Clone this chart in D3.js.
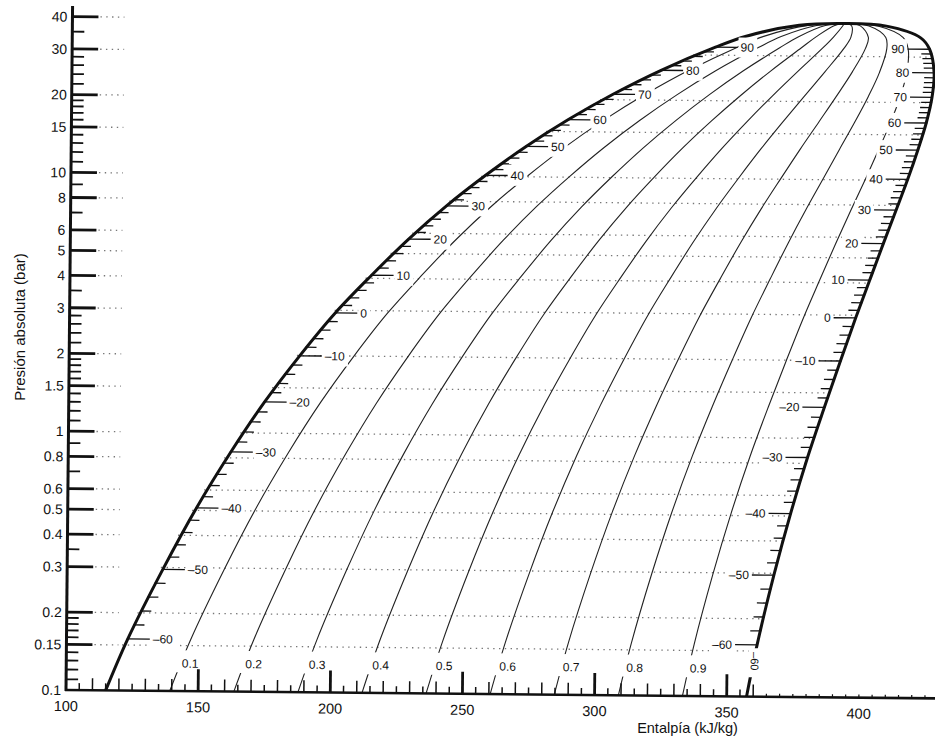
<!DOCTYPE html>
<html><head><meta charset="utf-8">
<script src="https://cdn.jsdelivr.net/npm/d3@7"></script>
<style>
html,body{margin:0;padding:0;background:#fff}
svg{display:block}
text{font-family:"Liberation Sans",Arial,Helvetica,sans-serif;fill:#111}
</style>
</head><body>
<svg id="chart" width="935" height="740"></svg>
<script>
// ---------------- data ----------------
const satTemps    = [-67, -60, -50, -40, -30, -20, -10, 0, 10, 20, 30, 40, 50, 60, 70, 80, 90, 95, 100];
const satPressure = [0.100, 0.1585, 0.295, 0.511, 0.843, 1.32, 1.995, 2.93, 4.11, 5.69, 7.67, 10.1, 13.1, 16.7, 21.0, 26.1, 32.2, 35.6, 39.4];
const hLiquid     = [115.0, 123.2, 136.2, 148.7, 161.5, 174.1, 187.2, 200.5, 214.1, 228.0, 242.2, 256.9, 272.1, 288.0, 304.8, 322.9, 343.4, 355.0, 375.0];
const hVapor      = [357.5, 361.3, 367.4, 373.5, 379.7, 385.9, 391.8, 397.4, 402.6, 407.6, 412.3, 416.6, 420.3, 423.4, 425.5, 426.2, 424.4, 421.0, 408.0];
const criticalH = 392, criticalP = 40.2;
const qualities = [0.1, 0.2, 0.3, 0.4, 0.5, 0.6, 0.7, 0.8, 0.9];
const labelTemps = [-60, -50, -40, -30, -20, -10, 0, 10, 20, 30, 40, 50, 60, 70, 80, 90];
const pressureMajor = [0.1, 0.15, 0.2, 0.3, 0.4, 0.5, 0.6, 0.8, 1, 1.5, 2, 3, 4, 5, 6, 8, 10, 15, 20, 30, 40];
const pressureLabels = ["0.1","0.15","0.2","0.3","0.4","0.5","0.6","0.8","1","1.5","2","3","4","5","6","8","10","15","20","30","40"];
const pressureMinor = [0.11,0.12,0.13,0.14,0.16,0.17,0.18,0.19,0.35,0.7,0.9,1.1,1.2,1.3,1.4,1.6,1.7,1.8,1.9,2.2,2.4,2.6,2.8,3.5,7,9,11,12,13,14,16,17,18,19,22,24,26,28,35];
const gridPressures = [0.15, 0.2, 0.3, 0.4, 0.5, 0.6, 0.8, 1, 1.5, 2, 3, 4, 5, 6, 8, 10, 15, 20, 30];
const enthalpyLabels = [100, 150, 200, 250, 300, 350, 400];

// ---------------- scales ----------------
const svg = d3.select("#chart");
const X0 = 66, Y0 = 690;
const x = d3.scaleLinear().domain([100, 430]).range([X0, X0 + 330 * 2.643]);
const y = d3.scaleLog().domain([0.1, 40]).range([Y0, 16.6]);

// the scanned chart is slightly rotated
const g = svg.append("g").attr("transform", `rotate(0.55,${X0},${Y0})`);
const gGrid = g.append("g"), gQual = g.append("g"), gDome = g.append("g"),
      gMask = g.append("g"), gTicks = g.append("g"), gLabels = g.append("g"), gAxes = g.append("g");

const rows = satTemps.map((t, i) => ({t, p: satPressure[i], hf: hLiquid[i], hg: hVapor[i]}));
const line = d3.line().x(d => x(d.h)).y(d => y(d.p)).curve(d3.curveCatmullRom.alpha(0.5));

function sample(node, n) {
  const L = node.getTotalLength(), pts = [];
  for (let i = 0; i <= n; i++) { const q = node.getPointAtLength(L * i / n); pts.push({x: q.x, y: q.y}); }
  return pts;
}
function xAtY(pts, yT) {
  for (let i = 1; i < pts.length; i++) {
    const a = pts[i - 1], b = pts[i];
    if ((a.y - yT) * (b.y - yT) <= 0 && a.y !== b.y) return a.x + (b.x - a.x) * (yT - a.y) / (b.y - a.y);
  }
  return null;
}

// ---------------- saturation dome ----------------
const domePts = rows.map(r => ({h: r.hf, p: r.p}))
  .concat([{h: criticalH, p: criticalP}])
  .concat(rows.slice().reverse().map(r => ({h: r.hg, p: r.p})));
const dome = gDome.append("path").attr("d", line(domePts))
  .attr("fill", "none").attr("stroke", "#111").attr("stroke-width", 3).attr("stroke-linejoin", "round");
const dp = sample(dome.node(), 3000);
let kTop = 0; dp.forEach((q, i) => { if (q.y < dp[kTop].y) kTop = i; });
const leftPts = dp.slice(0, kTop + 1), rightPts = dp.slice(kTop);

// ---------------- quality lines ----------------
const qualPts = [];
qualities.forEach(q => {
  const pts = rows.map(r => ({h: r.hf + q * (r.hg - r.hf), p: r.p})).concat([{h: criticalH, p: criticalP}]);
  const path = gQual.append("path").attr("d", line(pts)).attr("fill", "none")
    .attr("stroke", "#222").attr("stroke-width", 1.1);
  qualPts.push(sample(path.node(), 800));
});

// ---------------- dotted grid ----------------
pressureMajor.filter(p => p > 0.1).forEach(p => {
  gGrid.append("line").attr("x1", 94).attr("x2", 118).attr("y1", y(p)).attr("y2", y(p))
    .attr("stroke", "#777").attr("stroke-width", 1.3).attr("stroke-dasharray", "1.4 4.4");
});
gridPressures.forEach(p => {
  const yy = y(p), xl = xAtY(leftPts, yy), xr = xAtY(rightPts, yy);
  if (xl == null || xr == null) return;
  gGrid.append("line").attr("x1", xl - 3).attr("x2", xr).attr("y1", yy).attr("y2", yy)
    .attr("stroke", "#777").attr("stroke-width", 1.3).attr("stroke-dasharray", "1.4 4.4");
});

// ---------------- quality labels ----------------
const qLabelP = 0.128;
qualities.forEach((q, i) => {
  const yy = y(qLabelP), xx = xAtY(qualPts[i], yy);
  gMask.append("rect").attr("x", xx - 5).attr("y", yy - 13).attr("width", 28).attr("height", 22).attr("fill", "#fff");
  gLabels.append("text").attr("x", xx + 9.5).attr("y", yy).attr("dy", "0.35em")
    .attr("text-anchor", "middle").style("font-size", "12px").text(String(q));
});

// ---------------- temperature ticks & labels ----------------
const tempLogP = d3.scaleLinear().domain(satTemps).range(satPressure.map(Math.log10));
const tempY = t => y(Math.pow(10, tempLogP(t)));
const fmtT = t => (t < 0 ? "\u2013" : "") + Math.abs(t);
d3.range(-60, 91, 2).forEach(t => {
  const yy = tempY(t), xl = xAtY(leftPts, yy), xr = xAtY(rightPts, yy);
  const major = labelTemps.includes(t);
  const len = major ? 22 : 10;
  gTicks.append("line").attr("x1", xl - 1).attr("x2", xl + len).attr("y1", yy).attr("y2", yy)
    .attr("stroke", "#111").attr("stroke-width", 1.3);
  gTicks.append("line").attr("x1", xr + 1).attr("x2", xr - len).attr("y1", yy).attr("y2", yy)
    .attr("stroke", "#111").attr("stroke-width", 1.3);
  if (major) {
    const tl = gLabels.append("text").attr("x", xl + 25).attr("y", yy).attr("dy", "0.35em")
      .style("font-size", "12px").text(fmtT(t));
    const b1 = tl.node().getBBox();
    gMask.append("rect").attr("x", b1.x - 2).attr("y", b1.y - 3).attr("width", b1.width + 5).attr("height", b1.height + 6).attr("fill", "#fff");
    const tr = gLabels.append("text").attr("x", xr - 25).attr("y", yy).attr("dy", "0.35em")
      .attr("text-anchor", "end").style("font-size", "12px").text(fmtT(t));
    const b2 = tr.node().getBBox();
    gMask.append("rect").attr("x", b2.x - 3).attr("y", b2.y - 3).attr("width", b2.width + 5).attr("height", b2.height + 6).attr("fill", "#fff");
  }
});
// rotated label on the vapour line near the bottom
{
  const yy = y(0.137), xx = xAtY(rightPts, yy);
  gMask.append("rect").attr("x", xx - 5).attr("y", yy - 13).attr("width", 12).attr("height", 29).attr("fill", "#fff");
  gLabels.append("text").attr("transform", `translate(${xx + 1},${yy}) rotate(90)`)
    .attr("text-anchor", "middle").attr("dy", "0.35em").style("font-size", "11px").text(fmtT(-60));
}

// ---------------- axes ----------------
gAxes.append("line").attr("x1", X0).attr("x2", X0).attr("y1", Y0 + 1).attr("y2", y(44))
  .attr("stroke", "#111").attr("stroke-width", 3);
gAxes.append("line").attr("x1", X0 - 1).attr("x2", x(432)).attr("y1", Y0).attr("y2", Y0)
  .attr("stroke", "#111").attr("stroke-width", 2.6);
pressureMajor.forEach((p, i) => {
  if (p > 0.1) gAxes.append("line").attr("x1", X0).attr("x2", X0 + 26).attr("y1", y(p)).attr("y2", y(p))
    .attr("stroke", "#111").attr("stroke-width", 2.8);
  gAxes.append("text").attr("x", X0 - 5).attr("y", y(p)).attr("dy", "0.36em").attr("text-anchor", "end")
    .style("font-size", "14px").text(pressureLabels[i]);
});
pressureMinor.forEach(p => {
  gAxes.append("line").attr("x1", X0).attr("x2", X0 + 12).attr("y1", y(p)).attr("y2", y(p))
    .attr("stroke", "#111").attr("stroke-width", 1.8);
});
d3.range(105, 431, 5).forEach(h => {
  let len, w;
  if (h > 362) { len = 3; w = 1.2; }
  else if (h % 50 === 0) { len = 22; w = 2.8; }
  else if (h % 10 === 0) { len = 12; w = 1.5; }
  else { len = 7; w = 1.5; }
  gAxes.append("line").attr("x1", x(h)).attr("x2", x(h)).attr("y1", Y0).attr("y2", Y0 - len)
    .attr("stroke", "#111").attr("stroke-width", w);
});
enthalpyLabels.forEach(h => {
  gAxes.append("text").attr("x", x(h)).attr("y", Y0 + 21).attr("text-anchor", "middle")
    .style("font-size", "14.5px").text(String(h));
});

// ---------------- titles ----------------
svg.append("text").attr("transform", "translate(25,327) rotate(-90)").attr("text-anchor", "middle")
  .style("font-size", "15px").text("Presión absoluta (bar)");
svg.append("text").attr("x", 687.5).attr("y", 733).attr("text-anchor", "middle")
  .style("font-size", "14.5px").text("Entalpía (kJ/kg)");
</script>
</body></html>
